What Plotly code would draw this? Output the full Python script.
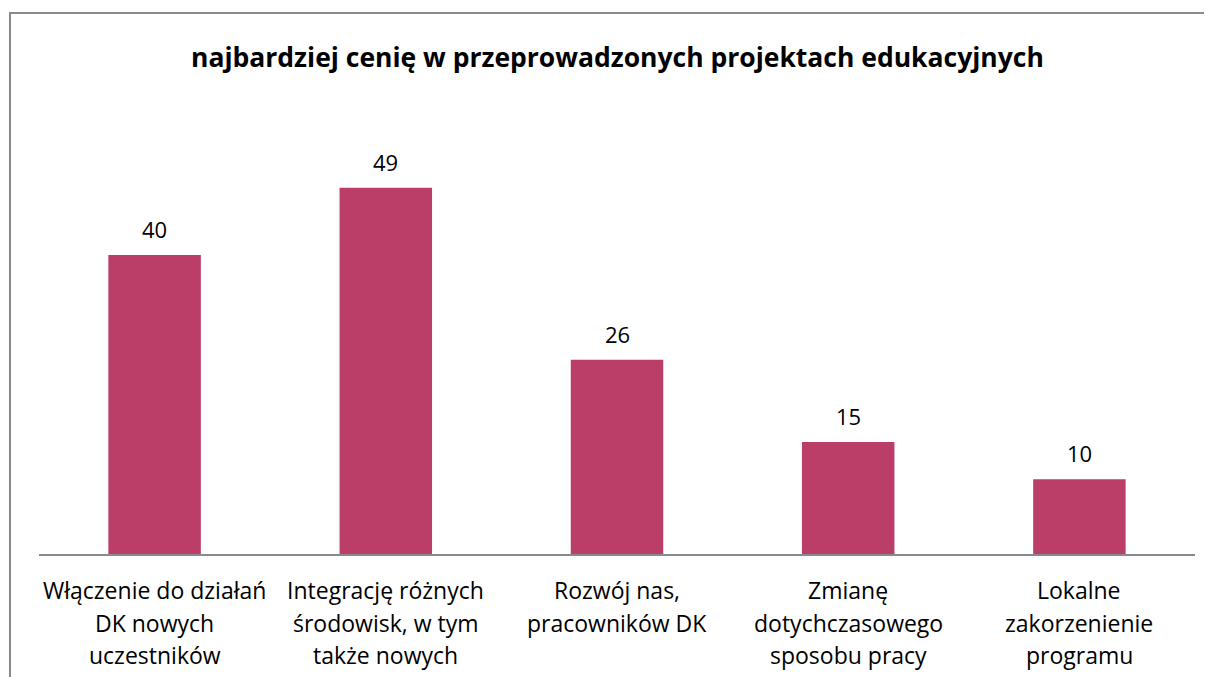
import plotly.graph_objects as go

label_lines = [
    ["Włączenie do działań", "DK nowych", "uczestników"],
    ["Integrację różnych", "środowisk, w tym", "także nowych"],
    ["Rozwój nas,", "pracowników DK"],
    ["Zmianę", "dotychczasowego", "sposobu pracy"],
    ["Lokalne", "zakorzenienie", "programu"],
]
categories = [" ".join(lines) for lines in label_lines]
values = [40, 49, 26, 15, 10]
title = "najbardziej cenię w przeprowadzonych projektach edukacyjnych"

font_family = "'Open Sans', Lato, sans-serif"
bar_color = "#BB3E68"
frame_color = "#8a8a8a"

fig = go.Figure()
fig.add_trace(go.Bar(
    x=categories, y=values,
    marker=dict(color=bar_color, line=dict(width=0)),
    hoverinfo="x+y",
))

# value labels above the bars
for cat, v in zip(categories, values):
    fig.add_annotation(x=cat, y=v, xref="x", yref="y", text=str(v),
                       showarrow=False, yanchor="bottom", yshift=9,
                       font=dict(size=22, family=font_family, color="#000000"))

# category labels, one annotation per line to get Excel-like line spacing
for cat, lines in zip(categories, label_lines):
    for i, line in enumerate(lines):
        fig.add_annotation(x=cat, y=0, xref="x", yref="paper", text=line,
                           showarrow=False, yanchor="top", yshift=-18 - 32.5 * i,
                           font=dict(size=23, family=font_family, color="#000000"))

# chart frame (right and bottom edges fall outside the page)
fig.add_shape(type="rect", xref="paper", yref="paper",
              x0=-0.0251, x1=1.2, y0=-0.5, y1=1.2268,
              line=dict(color=frame_color, width=2), layer="below")

fig.update_layout(
    width=1212, height=677,
    margin=dict(l=31, r=25, t=105, b=131),
    paper_bgcolor="white", plot_bgcolor="white",
    bargap=0.6,
    showlegend=False,
    font=dict(family=font_family, color="#000000"),
    title=dict(text="<b>" + title + "</b>", x=0.5004, xref="paper", xanchor="center",
               y=0.926, yanchor="middle",
               font=dict(size=26.5, family=font_family, color="#000000")),
)
fig.update_xaxes(showline=True, linecolor=frame_color, linewidth=2,
                 ticks="", showticklabels=False, showgrid=False)
fig.update_yaxes(range=[0, 59], visible=False, showgrid=False)

fig.write_html("out.html")
